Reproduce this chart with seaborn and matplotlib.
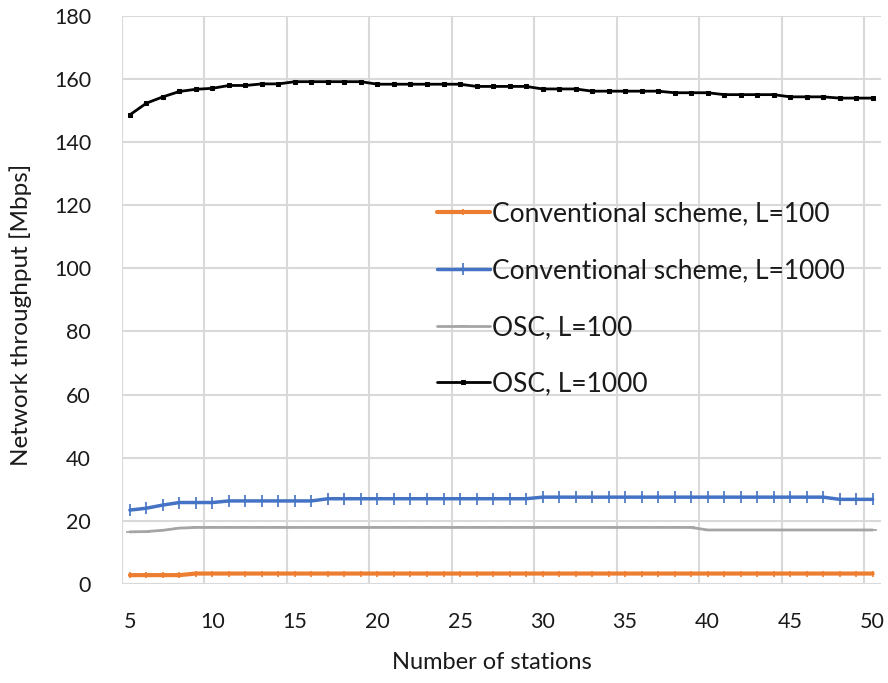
import numpy as np
import pandas as pd
import matplotlib
matplotlib.use('Agg')
import matplotlib.pyplot as plt
import seaborn as sns

# number of stations 5..50
stations = list(range(5, 51))

conv_100 = [2.8, 2.8, 2.8, 2.8] + [3.3] * 42
conv_1000 = ([23.4, 24.0, 25.0, 25.8, 25.8, 25.8]
             + [26.3] * 6
             + [27.0] * 13
             + [27.5] * 18
             + [26.8] * 3)
osc_100 = [16.5, 16.6, 17.0, 17.7] + [17.9] * 31 + [17.1] * 11
osc_1000 = [148.6, 152.3, 154.3, 156.0, 156.7, 157.0, 157.9, 157.9, 158.4, 158.4,
            159.1, 159.1, 159.1, 159.1, 159.1, 158.3, 158.3, 158.3, 158.3, 158.3,
            158.3, 157.6, 157.6, 157.6, 157.6, 156.8, 156.8, 156.8, 156.1, 156.1,
            156.1, 156.1, 156.1, 155.6, 155.6, 155.6, 155.0, 155.0, 155.0, 155.0,
            154.3, 154.3, 154.3, 153.9, 153.9, 153.9]

labels = ['Conventional scheme, L=100', 'Conventional scheme, L=1000',
          'OSC, L=100', 'OSC, L=1000']
colors = ['#ED7D31', '#4472C4', '#A5A5A5', '#000000']

sns.set_style('white')
plt.rcParams['font.family'] = ['Lato', 'DejaVu Sans']

fig, ax = plt.subplots(figsize=(8.88, 6.83), dpi=100)
fig.subplots_adjust(left=0.137, right=0.992, top=0.977, bottom=0.145)

styles = [
    dict(marker='|', markersize=5, linewidth=3.0, markeredgewidth=1.2),
    dict(marker='|', markersize=9, linewidth=2.5, markeredgewidth=1.2),
    dict(marker='_', markersize=6, linewidth=2.0, markeredgewidth=1.2),
    dict(marker='s', markersize=3, linewidth=2.0),
]
series = [conv_100, conv_1000, osc_100, osc_1000]
for vals, lab, col, st in zip(series, labels, colors, styles):
    df = pd.DataFrame({'stations': stations, 'thr': vals})
    sns.lineplot(data=df, x='stations', y='thr', color=col, label=lab, ax=ax,
                 markeredgecolor=col, **st)

txt = '#1a1a1a'
ax.set_xlim(4.5, 50.5)
ax.set_ylim(0, 180)
ax.set_xticks(range(5, 51, 5))
ax.set_xticks(np.arange(4.5, 50, 5), minor=True)
ax.set_yticks(range(0, 181, 20))
ax.tick_params(axis='both', which='both', length=0, labelsize=15.5, colors=txt)
ax.tick_params(axis='y', pad=22)
ax.tick_params(axis='x', pad=20)
ax.grid(False)
ax.grid(axis='x', which='minor', color='#d9d9d9', linewidth=1.5)
ax.grid(axis='y', which='major', color='#d9d9d9', linewidth=1.5)
ax.set_axisbelow(True)
for s in ax.spines.values():
    s.set_visible(False)

ax.set_xlabel('Number of stations', fontsize=17, color=txt)
ax.set_ylabel('Network throughput [Mbps]', fontsize=17.5, color=txt)
ax.xaxis.set_label_coords(0.487, -0.12)
ax.yaxis.set_label_coords(-0.118, 0.474)

ax.legend(loc='upper left', bbox_to_anchor=(0.492, 0.705), bbox_transform=fig.transFigure,
          frameon=False, fontsize=19, handlelength=2.0, handletextpad=0.1,
          labelspacing=1.2, borderpad=0, borderaxespad=0, labelcolor=txt)

fig.savefig('out.png', dpi=100)
